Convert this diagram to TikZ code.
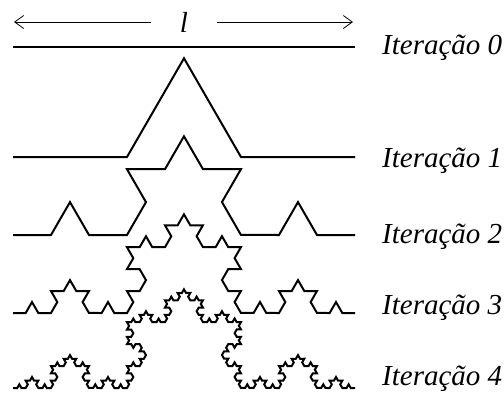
\documentclass[tikz,border=0pt]{standalone}
\usepackage{fontspec}
\setmainfont{Liberation Serif}
\usetikzlibrary{decorations.fractals,arrows.meta}

\begin{document}
\begin{tikzpicture}[
      x=1pt, y=-1pt,
      every node/.style={font=\fontsize{29}{34}\selectfont\itshape},
      curve/.style={line width=2pt, line join=miter},
      base/.style={line width=2.4pt},
      dim/.style={line width=0.8pt, -{Straight Barb[length=9pt,width=13pt,line width=0.8pt]}},
      lbl/.style={anchor=base west, inner sep=0pt},
      decoration=Koch snowflake
    ]
    \useasboundingbox (0,0) rectangle (504,394);

    % length arrow
    \node[inner xsep=29pt, inner ysep=0pt] (ell) at (184,22) {l};
    \coordinate (lend) at (14,22);
    \coordinate (rend) at (353,22);
    \draw[dim] (ell) -- (lend);
    \draw[dim] (ell) -- (rend);

    % end points of each iteration
    \foreach \n/\y in {0/47,1/157,2/235,3/313,4/388}{
      \coordinate (a\n) at (13,\y);
      \coordinate (b\n) at (355,\y);
    }

    \draw[base] (a0) -- (b0);
    \draw[curve] decorate{ (a1) -- (b1) };
    \draw[curve] decorate{ decorate{ (a2) -- (b2) }};
    \draw[curve] decorate{ decorate{ decorate{ (a3) -- (b3) }}};
    \draw[curve] decorate{ decorate{ decorate{ decorate{ (a4) -- (b4) }}}};

    % labels
    \foreach \n/\y in {0/54,1/167,2/243,3/314,4/385}{
      \node[lbl] (lab\n) at (382,\y) {Iteração \n};
    }
\end{tikzpicture}
\end{document}
